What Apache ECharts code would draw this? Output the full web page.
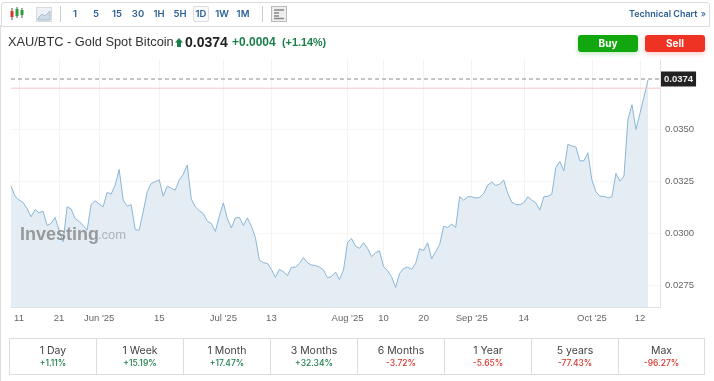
<!DOCTYPE html>
<html>
<head>
<meta charset="utf-8">
<title>XAU/BTC</title>
<script src="https://cdn.jsdelivr.net/npm/echarts@6/dist/echarts.min.js"></script>
<style>
html, body { margin: 0; padding: 0; background: #fff; }
body { width: 714px; height: 381px; overflow: hidden; position: relative; font-family: Inter, "Liberation Sans", sans-serif; color: #333; }
#chart { position: absolute; left: 0; top: 0; width: 714px; height: 381px; }
.abs { position: absolute; white-space: nowrap; }
.toolbar { left: 1px; top: 2px; width: 707px; height: 23px; border: 1px solid #ddd; border-radius: 3px 3px 0 0; }
.leftline { left: 0; top: 25px; width: 1px; height: 356px; background: #ddd; }
.sep { top: 6px; width: 1px; height: 16px; background: #ccc; }
.range { top: 6px; width: 16px; height: 16px; line-height: 16px; text-align: center; font-size: 9.5px; font-weight: 600; color: #2a5f95; box-sizing: border-box; }
.range.on { border: 1px solid #ddd; border-radius: 2px; line-height: 14px; background: #f7f9fb; }
.tech { left: 629px; top: 8px; font-size: 9px; font-weight: 600; color: #2a5f95; }
.title { left: 8px; top: 34px; font-size: 12.8px; font-family: "Liberation Sans"; color: #333; }
.price { left: 185px; top: 34px; font-size: 14px; font-weight: 700; font-family: "Liberation Sans"; color: #222; }
.chg { top: 35px; font-size: 12px; font-weight: 700; font-family: "Liberation Sans"; color: #1a7f4b; }
.btn { top: 35px; width: 60px; height: 17px; line-height: 17px; border-radius: 3px; color: #fff; font-size: 10px; font-weight: 700; text-align: center; }
.cell { top: 338px; height: 37px; box-sizing: border-box; border: 1px solid #ddd; text-align: center; }
.cell .n { font-size: 10.5px; color: #444; margin-top: 6px; line-height: 12px; }
.cell .p { font-size: 8.5px; font-weight: 500; line-height: 11px; margin-top: 1px; }
</style>
</head>
<body>
<div id="chart"></div>
<div class="abs toolbar"></div>
<div class="abs leftline"></div>
<svg class="abs" style="left:9px;top:7px" width="16" height="14">
  <path d="M3 1v12M8 0v11M13 1v10" stroke="#555" stroke-width="1"/>
  <rect x="1.5" y="4" width="3" height="6" fill="#d9352b"/>
  <rect x="6.5" y="2" width="3" height="7" fill="#2a9d3c"/>
  <rect x="11.5" y="3" width="3" height="5" fill="#2a9d3c"/>
</svg>
<svg class="abs" style="left:36px;top:7px" width="16" height="15">
  <rect x="0.5" y="0.5" width="15" height="14" fill="#eef2f6" stroke="#d5dbe1"/>
  <path d="M2 11L6 7l3 2 5-5v9H2z" fill="#cfdbe6" stroke="#a9bccd"/>
</svg>
<div class="abs sep" style="left:60px"></div>
<div class="abs sep" style="left:262px"></div>
<svg class="abs" style="left:271px;top:6px" width="16" height="16">
  <rect x="0.5" y="0.5" width="15" height="15" fill="#eee" stroke="#bbb"/>
  <path d="M3 4h10M3 7h5M3 10h5M3 12.5h10" stroke="#888" stroke-width="1.4"/>
</svg>
<div class="abs tech">Technical Chart <span style="font-weight:400;margin-left:1px">»</span></div>
<div class="abs title">XAU/BTC - Gold Spot Bitcoin</div>
<svg class="abs" style="left:175px;top:38px" width="8" height="9"><path d="M4 0L8 4.5H6V9H2V4.5H0z" fill="#1a7f4b"/></svg>
<div class="abs price">0.0374</div>
<div class="abs chg" style="left:232px">+0.0004</div>
<div class="abs chg" style="left:282px;font-size:10.8px;top:36px">(+1.14%)</div>
<div class="abs btn" style="left:578px;background:#12a60f;box-shadow:0 2px 5px rgba(18,166,15,.25)">Buy</div>
<div class="abs btn" style="left:645px;background:#ee3224;box-shadow:0 2px 5px rgba(238,50,36,.25)">Sell</div>
<script>
// chart values, one per day, oldest first
const closes = [
  0.03227, 0.03179, 0.03160, 0.03149, 0.03120, 0.03080, 0.03115, 0.03099, 0.03107, 0.03039,
  0.03048, 0.03077, 0.03016, 0.02960, 0.03128, 0.03118, 0.03072, 0.03058, 0.03039, 0.03016,
  0.03139, 0.03157, 0.03141, 0.03128, 0.03197, 0.03189, 0.03232, 0.03307, 0.03160, 0.03131,
  0.03138, 0.03019, 0.03016, 0.03104, 0.03200, 0.03240, 0.03248, 0.03257, 0.03179, 0.03227,
  0.03217, 0.03208, 0.03256, 0.03284, 0.03328, 0.03165, 0.03128, 0.03109, 0.03096, 0.03059,
  0.03048, 0.03010, 0.03083, 0.03147, 0.03072, 0.03027, 0.03075, 0.03077, 0.03039, 0.03075,
  0.03035, 0.02981, 0.02873, 0.02860, 0.02857, 0.02828, 0.02790, 0.02828, 0.02817, 0.02799,
  0.02838, 0.02839, 0.02857, 0.02885, 0.02860, 0.02849, 0.02847, 0.02839, 0.02825, 0.02788,
  0.02794, 0.02815, 0.02780, 0.02825, 0.02957, 0.02976, 0.02940, 0.02929, 0.02956, 0.02929,
  0.02889, 0.02908, 0.02917, 0.02841, 0.02822, 0.02793, 0.02742, 0.02809, 0.02833, 0.02839,
  0.02828, 0.02857, 0.02927, 0.02919, 0.02956, 0.02879, 0.02913, 0.02948, 0.03035, 0.03029,
  0.03045, 0.03029, 0.03176, 0.03160, 0.03176, 0.03176, 0.03170, 0.03173, 0.03192, 0.03232,
  0.03246, 0.03230, 0.03237, 0.03256, 0.03192, 0.03150, 0.03139, 0.03138, 0.03147, 0.03176,
  0.03160, 0.03147, 0.03112, 0.03176, 0.03178, 0.03189, 0.03316, 0.03345, 0.03300, 0.03427,
  0.03419, 0.03415, 0.03348, 0.03348, 0.03387, 0.03256, 0.03200, 0.03179, 0.03178, 0.03171,
  0.03176, 0.03288, 0.03251, 0.03275, 0.03546, 0.03617, 0.03498, 0.03575, 0.03655, 0.03735
];
const paddingDays = 3; // empty slots right of the last close
const tickIndex = [2, 12, 22, 37, 53, 65, 84, 93, 103, 115, 128, 145, 157];
const tickLabels = ["11", "21", "Jun '25", "15", "Jul '25", "13", "Aug '25", "10", "20", "Sep '25", "14", "Oct '25", "12"];
const priceTicks = [0.0275, 0.03, 0.0325, 0.035];
const lastPrice = 0.0374;
const redLevel = 0.03696;
const yMin = 0.02648;
const yMax = 0.03831;

const rangeButtons = ["1", "5", "15", "30", "1H", "5H", "1D", "1W", "1M"];
const perfNames = ["1 Day", "1 Week", "1 Month", "3 Months", "6 Months", "1 Year", "5 years", "Max"];
const perfValues = ["+1.11%", "+15.19%", "+17.47%", "+32.34%", "-3.72%", "-5.65%", "-77.43%", "-96.27%"];

// toolbar buttons
rangeButtons.forEach((label, i) => {
    const el = document.createElement("div");
    el.className = "abs range" + (label === "1D" ? " on" : "");
    el.style.left = 67 + i * 21 + "px";
    el.textContent = label;
    document.body.appendChild(el);
});

// performance strip under the chart
perfNames.forEach((name, i) => {
    const el = document.createElement("div");
    const up = perfValues[i].charAt(0) === "+";
    el.className = "abs cell";
    el.style.left = 9 + i * 87 + "px";
    el.style.width = (i === 7 ? 87 : 88) + "px";
    el.innerHTML = `<div class="n">${name}</div><div class="p" style="color:${up ? "#1a7f4b" : "#d5342a"}">${perfValues[i]}</div>`;
    document.body.appendChild(el);
});

const categories = closes.map((_, i) => i);
for (let i = 0; i < paddingDays; i++) categories.push(closes.length + i);
const isTick = (index) => tickIndex.includes(index);

const chart = echarts.init(document.getElementById("chart"));
chart.setOption({
    animation: false,
    grid: { left: 11, right: 54, top: 60, bottom: 74 },
    xAxis: {
        type: "category",
        boundaryGap: false,
        data: categories,
        axisLine: { lineStyle: { color: "#e2e2e2" } },
        axisTick: { show: false },
        splitLine: { show: true, interval: (index) => isTick(index), lineStyle: { color: "#f3f3f3" } },
        axisLabel: {
            interval: (index) => isTick(index),
            formatter: (value) => tickLabels[tickIndex.indexOf(Number(value))],
            color: "#666",
            fontFamily: "Liberation Sans",
            fontSize: 9.5,
            margin: 6,
            hideOverlap: false,
        },
    },
    yAxis: {
        type: "value",
        position: "right",
        min: yMin,
        max: yMax,
        axisLine: { show: true, lineStyle: { color: "#e2e2e2" } },
        axisTick: { show: false, customValues: priceTicks },
        splitLine: { show: true, lineStyle: { color: "#f6f6f6" } },
        axisLabel: {
            customValues: priceTicks,
            formatter: (value) => value.toFixed(4),
            color: "#666",
            fontFamily: "Liberation Sans",
            fontSize: 9.5,
            margin: 5,
        },
    },
    series: [
        {
            type: "line",
            data: closes,
            showSymbol: false,
            z: 2,
            lineStyle: { width: 1, color: "#8ab6d8" },
            areaStyle: { color: "#e4edf4", opacity: 1 },
        },
        {
            // pink level line
            type: "line",
            data: categories.map(() => redLevel),
            showSymbol: false,
            silent: true,
            z: 3,
            lineStyle: { width: 1, color: "#f6c6cb" },
        },
        {
            // last price, dashed with the dark box on the axis
            type: "line",
            data: categories.map(() => lastPrice),
            showSymbol: false,
            silent: true,
            z: 4,
            lineStyle: { width: 1, type: [4, 3], color: "#888" },
            endLabel: {
                show: true,
                formatter: lastPrice.toFixed(4),
                distance: 1,
                backgroundColor: "#222",
                color: "#eee",
                fontFamily: "Liberation Sans",
                fontSize: 9.5,
                fontWeight: "bold",
                padding: [3, 3, 2, 3],
            },
        },
    ],
    graphic: [
        {
            type: "text",
            left: 20,
            top: 226,
            z: 10,
            style: { text: "Investing", fontFamily: "Liberation Sans", fontSize: 18, fontWeight: "bold", fill: "rgba(125,125,125,0.75)" },
        },
        {
            type: "text",
            left: 98,
            top: 229,
            z: 10,
            style: { text: ".com", fontFamily: "Liberation Sans", fontSize: 13, fill: "rgba(140,140,140,0.6)" },
        },
    ],
});
</script>
</body>
</html>
